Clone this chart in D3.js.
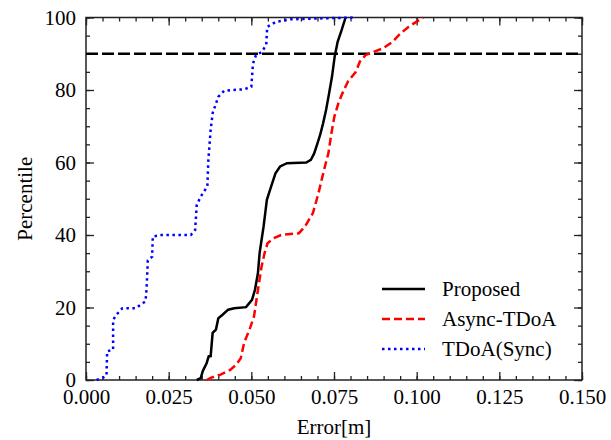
<!DOCTYPE html>
<html>
<head>
<meta charset="utf-8">
<script src="https://cdn.jsdelivr.net/npm/d3@7"></script>
<style>
  body { margin: 0; background: #fff; }
  svg { display: block; font-family: "Liberation Serif", "Times New Roman", serif; }
</style>
</head>
<body>
<svg width="611" height="440"></svg>
<script>
// CDF curves: [error (m), percentile]
const proposed = [
  [0.0335, 0], [0.0347, 0.5], [0.0353, 2.4], [0.0365, 4.7], [0.0371, 6.5], [0.0377, 6.6],
  [0.0383, 13], [0.0393, 13.9], [0.0400, 17], [0.0413, 18], [0.0430, 19.4], [0.0448, 19.8],
  [0.0484, 20.1], [0.0502, 22.1], [0.0511, 24.9], [0.0520, 29.5], [0.0525, 35], [0.0531, 38.7],
  [0.0537, 42.3], [0.0547, 49.7], [0.0560, 53.4], [0.0573, 57], [0.0587, 58.9], [0.0608, 59.8],
  [0.0666, 60], [0.0680, 60.7], [0.0690, 62.5], [0.0700, 65.3], [0.0708, 67.6], [0.0717, 70.8],
  [0.0726, 74.5], [0.0735, 79], [0.0744, 83.7], [0.0752, 89.2], [0.0761, 93.3], [0.0773, 96.5],
  [0.0785, 100]
];
const asyncTdoa = [
  [0.0365, 0], [0.0377, 0.6], [0.0407, 1.5], [0.0436, 2.8], [0.0454, 4.2], [0.0468, 6],
  [0.0478, 10.2], [0.0496, 14.3], [0.0508, 17.5], [0.0520, 24.9], [0.0531, 31.3], [0.0540, 35],
  [0.0549, 37.7], [0.0567, 39.1], [0.0590, 40], [0.0644, 40.5], [0.0662, 42.3], [0.0686, 46],
  [0.0703, 51.5], [0.0715, 56.1], [0.0725, 59.8], [0.0733, 62.5], [0.0742, 68], [0.0751, 72.6],
  [0.0763, 76.3], [0.0775, 79], [0.0792, 82.3], [0.0816, 85], [0.0828, 87.8], [0.0845, 89.6],
  [0.0869, 90.5], [0.0898, 91.5], [0.0927, 93.3], [0.0951, 95.6], [0.0975, 97.4], [0.0999, 98.8],
  [0.1020, 100]
];
const syncTdoa = [
  [0.0032, 0], [0.0052, 0.7], [0.0062, 1.2], [0.0064, 7.9], [0.0082, 8.4], [0.0082, 16.6],
  [0.0092, 18], [0.0110, 19.8], [0.0150, 19.8], [0.0180, 21.7], [0.0183, 24.9], [0.0187, 33],
  [0.0200, 34], [0.0202, 39.6], [0.0228, 40], [0.0317, 40], [0.0330, 41.4], [0.0335, 48.3],
  [0.0347, 50.6], [0.0367, 53.4], [0.0370, 60.7], [0.0377, 69], [0.0383, 73.6], [0.0400, 78.1],
  [0.0418, 79.8], [0.0478, 80.2], [0.0500, 80.9], [0.0505, 87.3], [0.0514, 89.6], [0.0532, 90.5],
  [0.0545, 92.5], [0.0548, 97.4], [0.0574, 98.8], [0.0620, 99.5], [0.0690, 99.7], [0.0815, 100]
];
const series = [
  { name: "Proposed", data: proposed, color: "#000", dash: null },
  { name: "Async-TDoA", data: asyncTdoa, color: "#f00", dash: "8,4" },
  { name: "TDoA(Sync)", data: syncTdoa, color: "#00f", dash: "2.5,3.5" }
];
const xTicks = [0, 0.025, 0.05, 0.075, 0.1, 0.125, 0.15];
const yTicks = [0, 20, 40, 60, 80, 100];
const refLine = 90;

const svg = d3.select("svg");
const mLeft = 86, mRight = 582, mTop = 17.5, mBottom = 380;

const x = d3.scaleLinear().domain([0, 0.15]).range([mLeft, mRight]);
const y = d3.scaleLinear().domain([0, 100]).range([mBottom, mTop]);

const xMinor = d3.range(0, 0.1501, 0.005);
const yMinor = d3.range(0, 101, 5);

// minor ticks (all four sides)
svg.append("g").attr("transform", `translate(0,${mBottom})`)
  .call(d3.axisBottom(x).tickValues(xMinor).tickSize(-4).tickFormat(""));
svg.append("g").attr("transform", `translate(0,${mTop})`)
  .call(d3.axisTop(x).tickValues(xMinor).tickSize(-4).tickFormat(""));
svg.append("g").attr("transform", `translate(${mLeft},0)`)
  .call(d3.axisLeft(y).tickValues(yMinor).tickSize(-4).tickFormat(""));
svg.append("g").attr("transform", `translate(${mRight},0)`)
  .call(d3.axisRight(y).tickValues(yMinor).tickSize(-4).tickFormat(""));

// major ticks
svg.append("g").attr("class", "xlab").attr("transform", `translate(0,${mBottom})`)
  .call(d3.axisBottom(x).tickValues(xTicks).tickSize(-8).tickPadding(9).tickFormat(d3.format(".3f")));
svg.append("g").attr("transform", `translate(0,${mTop})`)
  .call(d3.axisTop(x).tickValues(xTicks).tickSize(-8).tickFormat(""));
svg.append("g").attr("class", "ylab").attr("transform", `translate(${mLeft},0)`)
  .call(d3.axisLeft(y).tickValues(yTicks).tickSize(-8).tickPadding(10));
svg.append("g").attr("transform", `translate(${mRight},0)`)
  .call(d3.axisRight(y).tickValues(yTicks).tickSize(-8).tickFormat(""));

svg.selectAll(".domain").remove();
svg.selectAll(".tick line").attr("stroke", "#222").attr("stroke-width", 1.3);
svg.selectAll(".xlab text, .ylab text")
  .attr("font-family", "Liberation Serif, serif").attr("font-size", 21).attr("fill", "#000");

// frame
svg.append("rect")
  .attr("x", mLeft).attr("y", mTop)
  .attr("width", mRight - mLeft).attr("height", mBottom - mTop)
  .attr("fill", "none").attr("stroke", "#222").attr("stroke-width", 1.5);

// 90th percentile line
svg.append("line")
  .attr("x1", x(0)).attr("x2", x(0.15))
  .attr("y1", y(refLine)).attr("y2", y(refLine))
  .attr("stroke", "#000").attr("stroke-width", 2.5).attr("stroke-dasharray", "12,4");

const line = d3.line().x(d => x(d[0])).y(d => y(d[1]));

svg.append("g").selectAll("path")
  .data(series)
  .join("path")
  .attr("d", d => line(d.data))
  .attr("fill", "none")
  .attr("stroke", d => d.color)
  .attr("stroke-width", 2.5)
  .attr("stroke-dasharray", d => d.dash);

// axis titles
svg.append("text")
  .attr("x", (mLeft + mRight) / 2).attr("y", 434)
  .attr("text-anchor", "middle").attr("font-size", 21)
  .text("Error[m]");
svg.append("text")
  .attr("transform", `translate(32,${(mTop + mBottom) / 2}) rotate(-90)`)
  .attr("text-anchor", "middle").attr("font-size", 21)
  .text("Percentile");

// legend
const legend = svg.append("g");
series.forEach((s, i) => {
  const ly = 289 + i * 30;
  legend.append("line")
    .attr("x1", 382).attr("x2", 425).attr("y1", ly).attr("y2", ly)
    .attr("stroke", s.color).attr("stroke-width", 2.5)
    .attr("stroke-dasharray", s.dash);
  legend.append("text")
    .attr("x", 442).attr("y", ly + 7)
    .attr("font-size", 21)
    .text(s.name);
});
</script>
</body>
</html>
